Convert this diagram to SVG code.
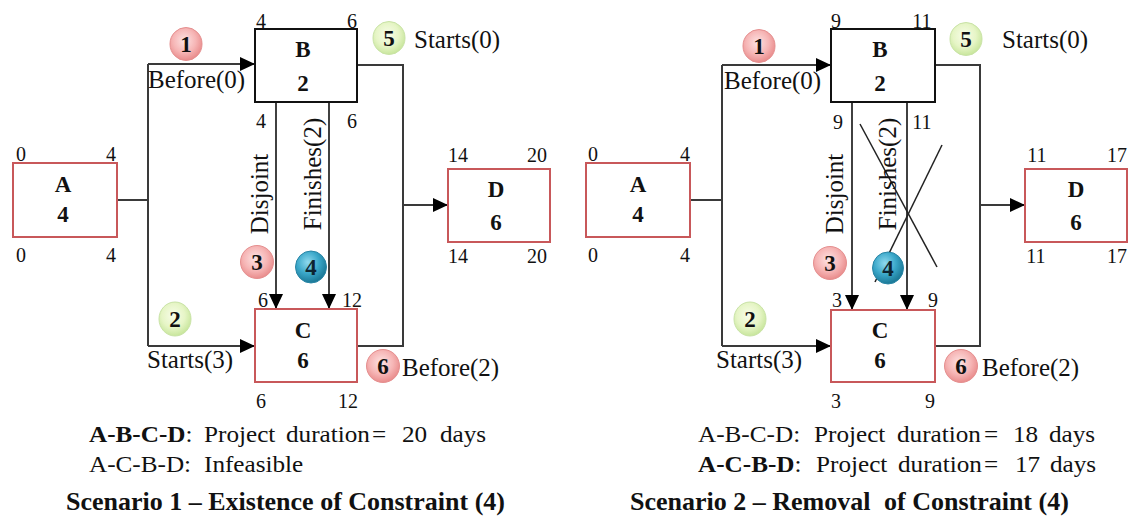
<svg xmlns="http://www.w3.org/2000/svg" width="1129" height="519" viewBox="0 0 1129 519">
<style>
text{font-family:"Liberation Serif","Times New Roman",serif;fill:#111}
.num{font-size:20px;text-anchor:middle}
.lbl{font-size:25px}
.nd{font-size:23px;font-weight:bold;text-anchor:middle}
.cn{font-size:23px;font-weight:bold;text-anchor:middle}
.bt{font-size:24px}
.tt{font-size:25px;font-weight:bold}
.b{font-weight:bold}
.boxr{fill:#fff;stroke:#c8585a;stroke-width:2}
.boxk{fill:#fff;stroke:#111;stroke-width:2}
.con{fill:none;stroke:#3a3a3a;stroke-width:2}
.arr{fill:none;stroke:#111;stroke-width:1.6}
.x{stroke:#222;stroke-width:1.5}
.pk{fill:url(#gp);stroke:#e58f8f;stroke-width:1}
.gr{fill:url(#gg);stroke:#c9e3a6;stroke-width:1}
.bl{fill:url(#gb);stroke:#2a86a6;stroke-width:1}
</style>
<defs>
<marker id="ah" markerUnits="userSpaceOnUse" markerWidth="15" markerHeight="14" refX="15" refY="7" orient="auto">
<path d="M0,0 L15,7 L0,14 z" fill="#000"/>
</marker>
<radialGradient id="gp" cx="0.45" cy="0.4" r="0.6">
<stop offset="0" stop-color="#fde3e3"/><stop offset="0.6" stop-color="#f6b5b5"/><stop offset="1" stop-color="#e98c8c"/>
</radialGradient>
<radialGradient id="gg" cx="0.45" cy="0.4" r="0.6">
<stop offset="0" stop-color="#f8fde9"/><stop offset="0.6" stop-color="#e6f5c6"/><stop offset="1" stop-color="#c8e69c"/>
</radialGradient>
<radialGradient id="gb" cx="0.4" cy="0.35" r="0.65">
<stop offset="0" stop-color="#8fd9ee"/><stop offset="0.55" stop-color="#3aa7c9"/><stop offset="1" stop-color="#1b7896"/>
</radialGradient>
</defs>

<!-- ================= Scenario 1 ================= -->
<g id="s1-connectors">
<path class="con" d="M117,200 H148"/>
<path class="con" d="M148,64 V346"/>
<path class="con" d="M148,64 H255" marker-end="url(#ah)"/>
<path class="con" d="M148,346 H255" marker-end="url(#ah)"/>
<path class="con" d="M357,65 H403 V346 H357"/>
<path class="con" d="M403,205 H448" marker-end="url(#ah)"/>
<path class="arr" d="M276,102 V309" marker-end="url(#ah)"/>
<path class="arr" d="M329,102 V309" marker-end="url(#ah)"/>
</g>
<g id="s1-A">
<rect class="boxr" x="13" y="163" width="104" height="74"/>
<text class="nd" x="63" y="192">A</text><text class="nd" x="63" y="222">4</text>
<text class="num" x="21" y="161">0</text><text class="num" x="111" y="161">4</text>
<text class="num" x="21" y="262">0</text><text class="num" x="111" y="262">4</text>
</g>
<g id="s1-B">
<rect class="boxk" x="255" y="29" width="102" height="73"/>
<text class="nd" x="303" y="57">B</text><text class="nd" x="303" y="91">2</text>
<text class="num" x="261" y="28">4</text><text class="num" x="352" y="28">6</text>
<text class="num" x="261" y="128">4</text><text class="num" x="352" y="128">6</text>
</g>
<g id="s1-C">
<rect class="boxr" x="255" y="309" width="102" height="73"/>
<text class="nd" x="303" y="338">C</text><text class="nd" x="303" y="368">6</text>
<text class="num" x="263" y="307">6</text><text class="num" x="352" y="307">12</text>
<text class="num" x="261" y="408">6</text><text class="num" x="348" y="408">12</text>
</g>
<g id="s1-D">
<rect class="boxr" x="448" y="169" width="102" height="73"/>
<text class="nd" x="496" y="197">D</text><text class="nd" x="496" y="230">6</text>
<text class="num" x="458" y="162">14</text><text class="num" x="537" y="162">20</text>
<text class="num" x="458" y="263">14</text><text class="num" x="537" y="263">20</text>
</g>
<g id="s1-labels">
<text class="lbl" x="148" y="88">Before(0)</text>
<text class="lbl" x="414" y="48">Starts(0)</text>
<text class="lbl" x="147" y="368">Starts(3)</text>
<text class="lbl" x="402" y="376">Before(2)</text>
<text class="lbl" transform="translate(268,194) rotate(-90)" text-anchor="middle">Disjoint</text>
<text class="lbl" transform="translate(321,174) rotate(-90)" text-anchor="middle">Finishes(2)</text>
</g>
<g id="s1-c1"><ellipse class="pk" cx="186" cy="44" rx="16" ry="16.5"/><text class="cn" x="186" y="52">1</text></g>
<g id="s1-c5"><ellipse class="gr" cx="389" cy="38" rx="16" ry="16.5"/><text class="cn" x="389" y="46">5</text></g>
<g id="s1-c3"><ellipse class="pk" cx="257" cy="262" rx="16.5" ry="16.5"/><text class="cn" x="257" y="270">3</text></g>
<g id="s1-c4"><ellipse class="bl" cx="311" cy="267" rx="15.5" ry="16"/><text class="cn" x="311" y="275" style="fill:#0d2430">4</text></g>
<g id="s1-c2"><ellipse class="gr" cx="175" cy="319" rx="16" ry="17"/><text class="cn" x="175" y="327">2</text></g>
<g id="s1-c6"><ellipse class="pk" cx="383" cy="366" rx="16.5" ry="16.5"/><text class="cn" x="383" y="374">6</text></g>
<g id="s1-text">
<text class="bt" y="442" transform="scale(1.05,1)"><tspan class="b" x="84.76">A-B-C-D</tspan>: <tspan x="194.29">Project</tspan> <tspan x="272.38">duration</tspan> <tspan x="354.29">=</tspan> <tspan x="382.86">20</tspan> <tspan x="419.05">days</tspan></text>
<text class="bt" y="472" transform="scale(1.05,1)"><tspan x="84.76">A-C-B-D:</tspan> <tspan x="194.29">Infeasible</tspan></text>
<text class="tt" x="63.46" y="510" transform="scale(1.04,1)">Scenario 1 – Existence of Constraint (4)</text>
</g>

<!-- ================= Scenario 2 ================= -->
<g id="s2-connectors">
<path class="con" d="M690,200 H722"/>
<path class="con" d="M722,65 V346"/>
<path class="con" d="M722,65 H831" marker-end="url(#ah)"/>
<path class="con" d="M722,346 H831" marker-end="url(#ah)"/>
<path class="con" d="M935,65 H980 V346 H935"/>
<path class="con" d="M980,205 H1025" marker-end="url(#ah)"/>
<path class="arr" d="M852,102 V310" marker-end="url(#ah)"/>
<path class="arr" d="M907,102 V310" marker-end="url(#ah)"/>
<line class="x" x1="860" y1="124" x2="937" y2="267"/>
<line class="x" x1="942" y1="145" x2="875" y2="282"/>
</g>
<g id="s2-A">
<rect class="boxr" x="586" y="163" width="104" height="74"/>
<text class="nd" x="638" y="192">A</text><text class="nd" x="638" y="222">4</text>
<text class="num" x="593" y="161">0</text><text class="num" x="685" y="161">4</text>
<text class="num" x="593" y="262">0</text><text class="num" x="685" y="262">4</text>
</g>
<g id="s2-B">
<rect class="boxk" x="831" y="29" width="104" height="73"/>
<text class="nd" x="880" y="57">B</text><text class="nd" x="880" y="91">2</text>
<text class="num" x="836" y="28">9</text><text class="num" x="922" y="28">11</text>
<text class="num" x="838" y="129">9</text><text class="num" x="922" y="129">11</text>
</g>
<g id="s2-C">
<rect class="boxr" x="831" y="310" width="104" height="72"/>
<text class="nd" x="880" y="338">C</text><text class="nd" x="880" y="368">6</text>
<text class="num" x="837" y="307">3</text><text class="num" x="933" y="307">9</text>
<text class="num" x="836" y="408">3</text><text class="num" x="930" y="408">9</text>
</g>
<g id="s2-D">
<rect class="boxr" x="1025" y="169" width="102" height="73"/>
<text class="nd" x="1076" y="197">D</text><text class="nd" x="1076" y="230">6</text>
<text class="num" x="1037" y="162">11</text><text class="num" x="1117" y="162">17</text>
<text class="num" x="1036" y="263">11</text><text class="num" x="1117" y="263">17</text>
</g>
<g id="s2-labels">
<text class="lbl" x="724" y="89">Before(0)</text>
<text class="lbl" x="1002" y="48">Starts(0)</text>
<text class="lbl" x="716" y="368">Starts(3)</text>
<text class="lbl" x="982" y="376">Before(2)</text>
<text class="lbl" transform="translate(843,194) rotate(-90)" text-anchor="middle">Disjoint</text>
<text class="lbl" transform="translate(896,174) rotate(-90)" text-anchor="middle">Finishes(2)</text>
</g>
<g id="s2-c1"><ellipse class="pk" cx="759" cy="46" rx="16" ry="16.5"/><text class="cn" x="759" y="54">1</text></g>
<g id="s2-c5"><ellipse class="gr" cx="966" cy="39" rx="16" ry="16.5"/><text class="cn" x="966" y="47">5</text></g>
<g id="s2-c3"><ellipse class="pk" cx="830" cy="263" rx="16.5" ry="16.5"/><text class="cn" x="830" y="271">3</text></g>
<g id="s2-c4"><ellipse class="bl" cx="888" cy="268" rx="15.5" ry="16"/><text class="cn" x="888" y="276" style="fill:#0d2430">4</text></g>
<g id="s2-c2"><ellipse class="gr" cx="750" cy="319" rx="16" ry="17"/><text class="cn" x="750" y="327">2</text></g>
<g id="s2-c6"><ellipse class="pk" cx="961" cy="366" rx="16.5" ry="16.5"/><text class="cn" x="961" y="374">6</text></g>
<g id="s2-text">
<text class="bt" y="442" transform="scale(1.05,1)"><tspan x="664.76">A-B-C-D:</tspan> <tspan x="775.24">Project</tspan> <tspan x="854.29">duration</tspan> <tspan x="937.14">=</tspan> <tspan x="964.76">18</tspan> <tspan x="999.05">days</tspan></text>
<text class="bt" y="472" transform="scale(1.05,1)"><tspan class="b" x="664.76">A-C-B-D</tspan>: <tspan x="777.14">Project</tspan> <tspan x="855.24">duration</tspan> <tspan x="937.14">=</tspan> <tspan x="966.67">17</tspan> <tspan x="1000">days</tspan></text>
<text class="tt" x="605.77" y="510" transform="scale(1.04,1)">Scenario 2 – Removal <tspan x="850">of</tspan> Constraint (4)</text>
</g>
</svg>
